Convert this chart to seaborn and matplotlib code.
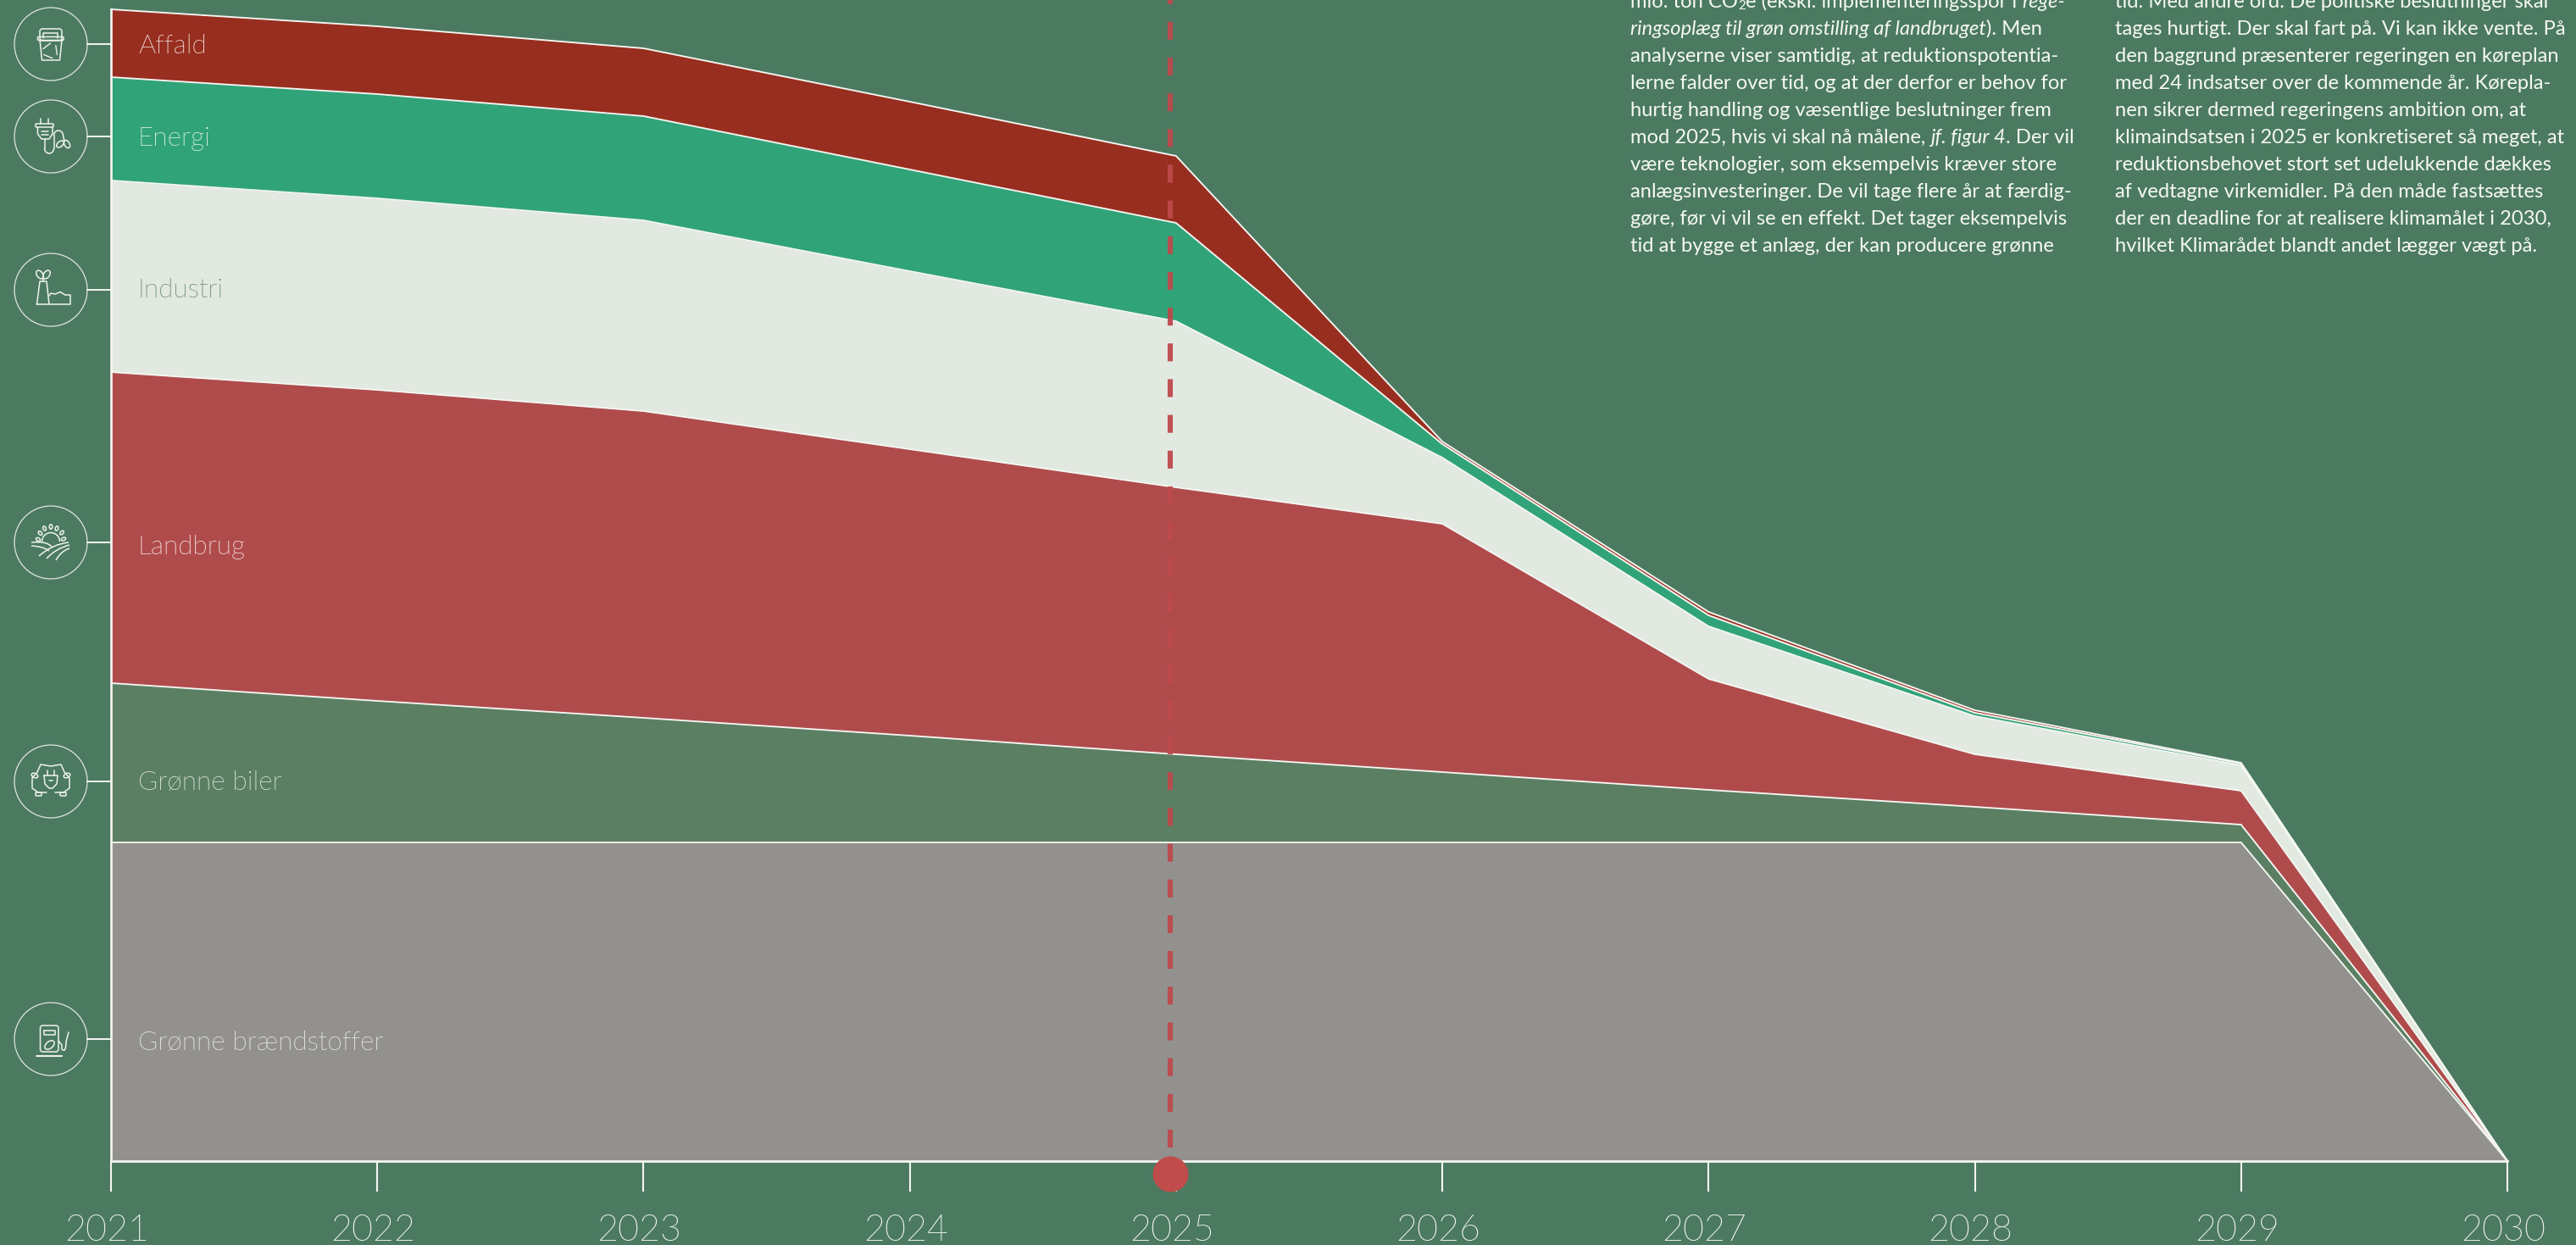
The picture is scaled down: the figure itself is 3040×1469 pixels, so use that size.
import os
import numpy as np
import pandas as pd
import seaborn as sns
import matplotlib
matplotlib.use("Agg")
import matplotlib.pyplot as plt
from matplotlib import font_manager as fm
from matplotlib.patches import Circle, Ellipse, Arc, PathPatch, FancyBboxPatch
from matplotlib.path import Path
from matplotlib.transforms import ScaledTranslation

years = [2021, 2022, 2023, 2024, 2025, 2026, 2027, 2028, 2029, 2030]
braendstoffer = [376, 376, 376, 376, 376, 376, 376, 376, 376, 0]
biler = [188, 167, 147, 126, 104, 83, 62, 42, 21, 0]
landbrug = [367, 367, 362, 338, 315, 293, 131, 62, 40, 0]
industri = [226, 226, 225, 210, 196, 78, 62, 45, 30, 0]
energi = [122, 123, 123, 120, 116, 16, 13, 4, 2, 0]
affald = [80, 80, 80, 80, 79, 3, 4, 3, 1, 0]

series_names = ["Grønne brændstoffer", "Grønne biler", "Landbrug", "Industri", "Energi", "Affald"]
series_values = [braendstoffer, biler, landbrug, industri, energi, affald]
series_colors = ["#93918e", "#5b7f63", "#b04b4c", "#e2e9e0", "#31a379", "#982e20"]
label_colors = ["#ecece8", "#e3ece4", "#f9ecea", "#6a8d75", "#e6f6ee", "#f8e8e2"]
label_y = [1230, 923, 645, 342, 163, 54]
icon_y = [1226, 922, 640, 342, 161, 52]
deadline_year = 2024.978

column_1 = [
    [("mio. ton CO", "n"), ("2", "s"), ("e (ekskl. implementeringsspor i ", "n"), ("rege-", "i")],
    [("ringsoplæg til grøn omstilling af landbruget", "i"), ("). Men", "n")],
    [("analyserne viser samtidig, at reduktionspotentia-", "n")],
    [("lerne falder over tid, og at der derfor er behov for", "n")],
    [("hurtig handling og væsentlige beslutninger frem", "n")],
    [("mod 2025, hvis vi skal nå målene, ", "n"), ("jf. figur 4", "i"), (". Der vil", "n")],
    [("være teknologier, som eksempelvis kræver store", "n")],
    [("anlægsinvesteringer. De vil tage flere år at færdig-", "n")],
    [("gøre, før vi vil se en effekt. Det tager eksempelvis", "n")],
    [("tid at bygge et anlæg, der kan producere grønne", "n")],
]
column_2 = [
    "tid. Med andre ord: De politiske beslutninger skal",
    "tages hurtigt. Der skal fart på. Vi kan ikke vente. På",
    "den baggrund præsenterer regeringen en køreplan",
    "med 24 indsatser over de kommende år. Kørepla-",
    "nen sikrer dermed regeringens ambition om, at",
    "klimaindsatsen i 2025 er konkretiseret så meget, at",
    "reduktionsbehovet stort set udelukkende dækkes",
    "af vedtagne virkemidler. På den måde fastsættes",
    "der en deadline for at realisere klimamålet i 2030,",
    "hvilket Klimarådet blandt andet lægger vægt på.",
]

BG = "#4b7a61"
WHITE = "#f4f6f2"
sns.set_theme(style="white", rc={"axes.facecolor": BG, "figure.facecolor": BG})
plt.rcParams["font.family"] = ["Lato", "DejaVu Sans"]


def light_font():
    for f in fm.fontManager.ttflist:
        base = os.path.basename(f.fname).lower()
        if "lato" in base and "light" in base and "italic" not in base and "hairline" not in base:
            return f.fname
    return None


LIGHT = light_font()


def light(size):
    if LIGHT:
        return fm.FontProperties(fname=LIGHT, size=size)
    return fm.FontProperties(family="Lato", size=size)


W, H, BASE = 3040, 1469, 1370
fig = plt.figure(figsize=(W / 100, H / 100), dpi=100)
ax = fig.add_axes([131 / W, (H - BASE) / H, (2959 - 131) / W, BASE / H])
ax.set_xlim(2021, 2030)
ax.set_ylim(0, BASE)
ax.patch.set_alpha(0)

bottom = np.zeros(len(years))
for name, vals, col in zip(series_names, series_values, series_colors):
    top = bottom + np.array(vals, float)
    ax.fill_between(years, bottom, top, color=col, lw=0, zorder=2)
    bottom = top
bottom = np.zeros(len(years))
for name, vals in zip(series_names, series_values):
    bottom = bottom + np.array(vals, float)
    df = pd.DataFrame({"year": years, "value": bottom})
    sns.lineplot(data=df, x="year", y="value", color=WHITE, lw=1.35, ax=ax, zorder=3,
                 estimator=None, legend=False, clip_on=False, solid_joinstyle="miter")

for s in ["top", "right"]:
    ax.spines[s].set_visible(False)
ax.spines["left"].set_color(WHITE)
ax.spines["left"].set_linewidth(1.9)
ax.spines["left"].set_bounds(0, BASE - 11)
ax.spines["bottom"].set_color(WHITE)
ax.spines["bottom"].set_linewidth(2.0)
ax.spines["bottom"].set_zorder(4)
ax.set_yticks([])
ax.set_xlabel("")
ax.set_ylabel("")
ax.set_xticks(years)
ax.tick_params(axis="x", direction="out", length=26, width=1.5, color=WHITE, pad=19,
               labelcolor="#f2f5f0", bottom=True)
off = ScaledTranslation(-5 / 100, 0, fig.dpi_scale_trans)
for lab in ax.get_xticklabels():
    lab.set_fontproperties(light(31))
    lab.set_transform(lab.get_transform() + off)

ax.plot([deadline_year, deadline_year], [BASE - 1354, BASE + 10], color="#bd4a4c", alpha=0.95,
        lw=4.4, dashes=(3.45, 3.45), dash_capstyle="butt", zorder=5, clip_on=False)
sns.scatterplot(x=[deadline_year], y=[-15], s=915, color="#c04d4b", linewidth=0, ax=ax,
                zorder=6, clip_on=False, legend=False)

# overlay in picture pixels for labels, icons and body text
ov = fig.add_axes([0, 0, 1, 1])
ov.set_xlim(0, W)
ov.set_ylim(H, 0)
ov.axis("off")
ov.patch.set_alpha(0)
ILW = 1.1
IC = "#eef2ec"


def line(pts, closed=False, lw=ILW):
    pts = list(pts)
    if closed:
        pts = pts + [pts[0]]
    xs, ys = zip(*pts)
    ov.plot(np.array(xs), np.array(ys), color=IC, lw=lw, solid_joinstyle="round", solid_capstyle="round")


def curve(p0, c, p1, lw=ILW):
    ov.add_patch(PathPatch(Path([p0, c, p1], [Path.MOVETO, Path.CURVE3, Path.CURVE3]), fc="none", ec=IC, lw=lw))


def ell(x, y, w, h, ang=0, lw=ILW):
    ov.add_patch(Ellipse((x, y), w, h, angle=ang, fc="none", ec=IC, lw=lw))


def rbox(x0, y0, x1, y1, r=3, lw=ILW):
    ov.add_patch(FancyBboxPatch((x0 + r, y0 + r), x1 - x0 - 2 * r, y1 - y0 - 2 * r,
                                boxstyle=f"round,pad={r}", fc="none", ec=IC, lw=lw))


for name, col, ly, iy in zip(series_names, label_colors, label_y, icon_y):
    ov.text(163, ly, name, color=col, fontproperties=light(22.8), va="center", ha="left")
    ov.add_patch(Circle((60, iy), 43, fc="none", ec="#dfe6df", lw=0.9))
    ov.plot([103, 131], [iy, iy], color=WHITE, lw=1.4)

# bin
rbox(47, 34, 73, 48)
line([(51, 45), (51, 39), (68, 39), (68, 45)])
rbox(44.5, 43.5, 75, 47.5, r=1)
line([(47, 47), (49.5, 71), (70.5, 71), (73, 47)])
for a in (90, 210, 330):
    r = np.deg2rad(a)
    b = np.deg2rad(a + 75)
    line([(59.5 + 9 * np.cos(r), 60 - 9 * np.sin(r)), (59.5 + 9 * np.cos(b), 60 - 9 * np.sin(b))], lw=1.0)
# plug and leaves
line([(48, 140), (48, 146)])
line([(57, 140), (57, 146)])
rbox(42, 146, 63, 150, r=1)
line([(44.5, 150), (44.5, 158), (49, 164), (58, 164), (62, 158), (62, 150)])
line([(49, 155), (57, 155)])
line([(49, 159), (57, 159)])
line([(52.5, 164), (52.5, 175)])
ov.add_patch(Arc((58, 175), 11, 12, theta1=0, theta2=180, color=IC, lw=ILW))
line([(63.5, 175), (63.5, 160)])
ov.add_patch(Arc((69, 160), 11, 12, theta1=180, theta2=360, color=IC, lw=ILW))
line([(74.5, 160), (76, 167)])
ell(71, 170, 6, 10, 50)
ell(79, 170, 6, 10, -30)
# factory
line([(43.5, 359), (47, 332), (55, 332), (58, 359)], closed=True)
line([(51, 332), (51, 325)])
ell(47, 324, 7, 11, -35)
ell(55, 324, 7, 11, 35)
line([(58, 359), (83, 359), (83, 348), (77, 348), (71, 344.5), (65, 347), (60, 346), (58, 349)])
# farm
ov.add_patch(Arc((60, 639), 21, 21, theta1=180, theta2=360, color=IC, lw=ILW))
for dx, dy, a in [(-15, 636.5, -60), (-12.5, 629, -40), (-7.5, 623.5, -20), (0, 621.5, 0), (7, 623.5, 20), (13, 628.5, 40), (15, 636, 65)]:
    ell(60 + dx, dy, 3.5, 5.5, a)
curve((37, 640), (55, 638), (61, 645))
curve((37, 644), (52, 645), (58, 650))
curve((46, 656), (62, 642), (81, 640))
curve((55, 659), (66, 647), (82, 643))
curve((66, 661), (72, 650), (82, 647))
# car
line([(45, 935), (38, 930), (38, 918), (44, 911), (48, 902), (60, 904), (72, 902), (76, 911), (82, 918), (82, 930), (75, 935)])
line([(45, 935), (55, 935)])
line([(65, 935), (75, 935)])
rbox(42, 935, 49, 939, r=1)
rbox(71, 935, 78, 939, r=1)
ell(41, 915, 8, 5, 25)
ell(79, 915, 8, 5, -25)
line([(56, 909), (56, 915)])
line([(64, 909), (64, 915)])
line([(52, 915), (68, 915), (67, 925), (62, 930), (58, 930), (53, 925)], closed=True)
line([(58, 921), (62, 921)])
# pump
rbox(47.5, 1210, 69, 1241, r=3)
line([(52, 1216), (64.5, 1216), (64.5, 1221), (52, 1221)], closed=True)
line([(43, 1245.5), (73, 1245.5)], lw=1.5)
ell(58.5, 1233, 8, 13, 50)
line([(69, 1228), (73, 1233), (73, 1238)])
curve((73, 1238), (78, 1243), (78, 1229))
line([(78, 1229), (81, 1218)])

# body text
STYLES = {"n": dict(style="normal", fontsize=17.15),
          "i": dict(style="italic", fontsize=17.15),
          "s": dict(style="normal", fontsize=11)}
renderer = fig.canvas.get_renderer()


def seg_width(txt, **kw):
    a = ov.text(0, 0, txt + "|", **kw)
    b = ov.text(0, 0, "|", **kw)
    w = a.get_window_extent(renderer).width - b.get_window_extent(renderer).width
    a.remove()
    b.remove()
    return w


TXT = "#f6f8f4"
for i, segs in enumerate(column_1):
    x = 1924
    y = 0 + 32.05 * i
    for txt, st in segs:
        kw = STYLES[st]
        ov.text(x, y + (5 if st == "s" else 0), txt, color=TXT, va="center_baseline", ha="left", **kw)
        x += seg_width(txt, **kw)
for i, txt in enumerate(column_2):
    ov.text(2496, 0 + 32.05 * i, txt, color=TXT, va="center_baseline", ha="left", **STYLES["n"])

fig.savefig("out.png", dpi=100, facecolor=BG)
